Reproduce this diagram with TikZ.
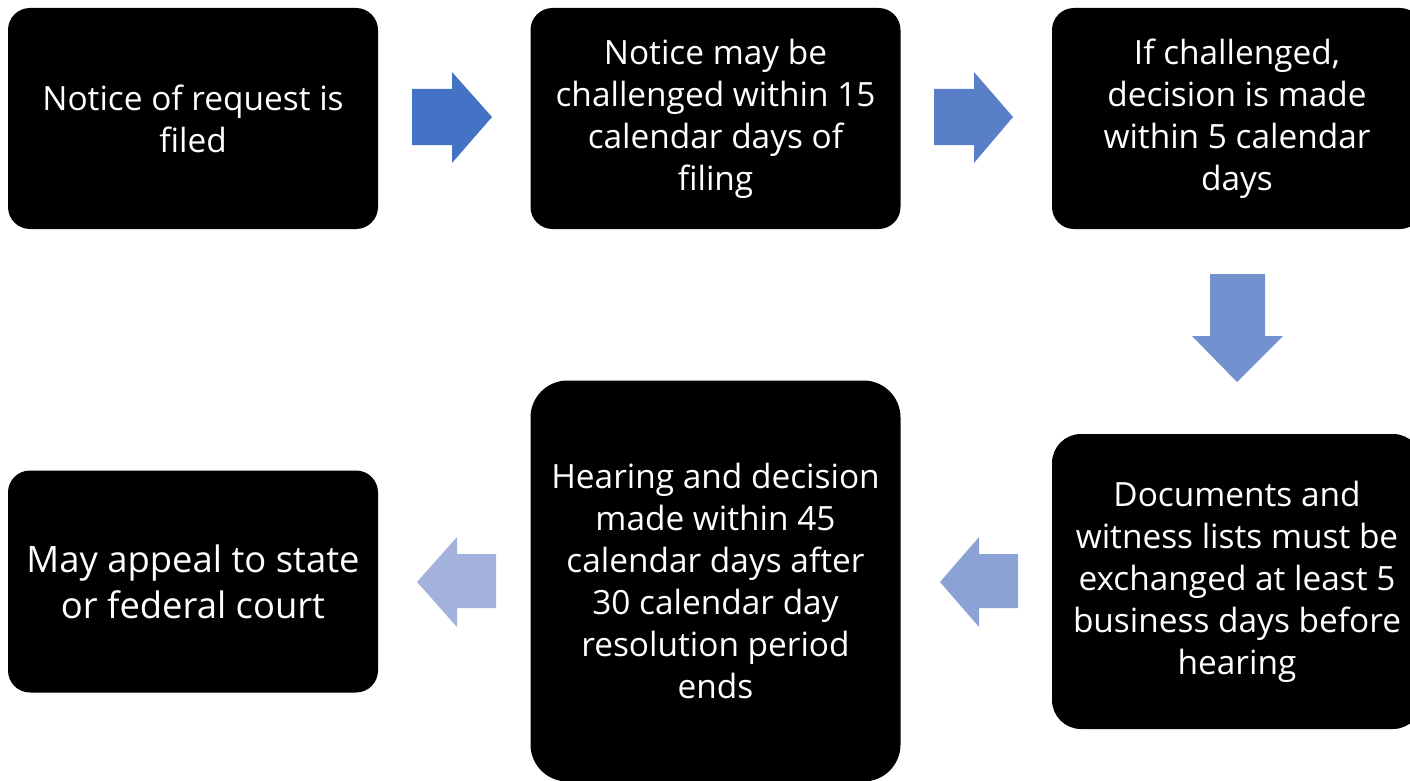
\documentclass[tikz,border=0pt]{standalone}
\usepackage{fontspec}
\setmainfont{Open Sans}
\definecolor{arA}{HTML}{4472C4}
\definecolor{arB}{HTML}{5A7FC9}
\definecolor{arC}{HTML}{7191CF}
\definecolor{arD}{HTML}{8CA2D7}
\definecolor{arE}{HTML}{A2B2DC}
\tikzset{
  stepbox/.style={fill=black, draw=none, text=white, rounded corners=22pt, align=center,
    outer sep=0pt, inner sep=0pt, minimum width=370pt,
    font=\fontsize{33.4}{42}\selectfont},
}
\begin{document}
\begin{tikzpicture}[x=1pt,y=-1pt]
\useasboundingbox (0,0) rectangle (1410,781);
\fill[white] (0,0) rectangle (1410,781);
\node[stepbox, minimum height=221pt] (s1) at (193,118.5) {Notice of request is\\filed};
\node[stepbox, minimum height=221pt] (s2) at (715.5,118.5) {Notice may be\\challenged within 15\\calendar days of\\filing};
\node[stepbox, minimum height=221pt] (s3) at (1237,118.5) {If challenged,\\decision is made\\within 5 calendar\\days};
\node[stepbox, minimum height=295pt, rounded corners=29pt] (s4) at (1237,581.5) {Documents and\\witness lists must be\\exchanged at least 5\\business days before\\hearing};
\node[stepbox, minimum height=401pt, rounded corners=37pt] (s5) at (715.5,581) {Hearing and decision\\made within 45\\calendar days after\\30 calendar day\\resolution period\\ends};
\node[stepbox, minimum height=222pt, font=\fontsize{36.4}{46}\selectfont] (s6) at (193,581.5) {May appeal to state\\or federal court};
% block arrows
\fill[arA] (412,89) -- (452,89) -- (452,72) -- (492,117) -- (452,163) -- (452,145) -- (412,145) -- cycle;
\fill[arB] (934,89) -- (974,89) -- (974,72) -- (1013,117) -- (974,163) -- (974,145) -- (934,145) -- cycle;
\fill[arC] (1210,274) -- (1265,274) -- (1265,336) -- (1283,336) -- (1237,382) -- (1192,336) -- (1210,336) -- cycle;
\fill[arD] (1018,554) -- (979,554) -- (979,537) -- (940,582) -- (979,627) -- (979,608) -- (1018,608) -- cycle;
\fill[arE] (496,554) -- (457,554) -- (457,537) -- (417,582) -- (457,627) -- (457,608) -- (496,608) -- cycle;
\end{tikzpicture}
\end{document}
